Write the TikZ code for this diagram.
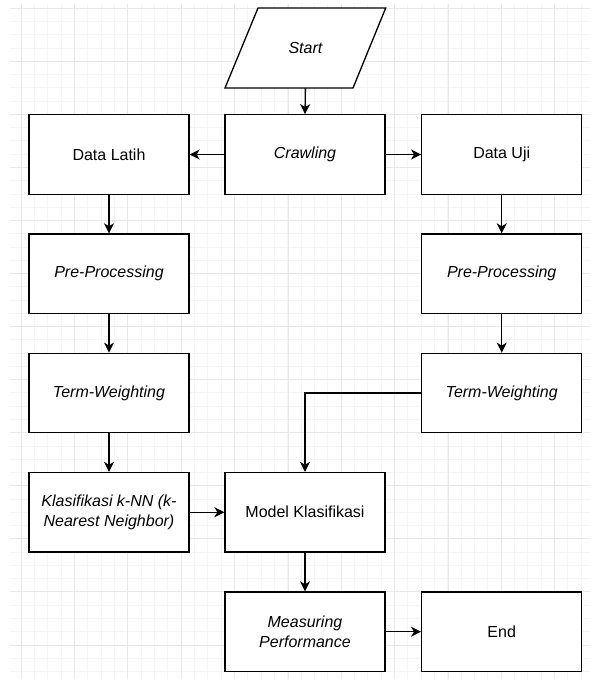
\documentclass[tikz,border=0pt]{standalone}
\usepackage{fontspec}
\setmainfont{Liberation Sans}
\usetikzlibrary{arrows.meta}
\definecolor{gridmajor}{RGB}{232,232,232}
\definecolor{gridminor}{RGB}{245,245,245}
\tikzset{
  box/.style={draw=black, line width=1.3pt, fill=white, minimum width=160pt, minimum height=79.5pt, inner sep=2pt, align=center, font=\fontsize{16}{19.5}\selectfont},
  itbox/.style={box, font=\fontsize{16}{19.5}\selectfont\itshape},
  conn/.style={draw=black, line width=1.3pt, -{Stealth[length=10pt,width=10pt,inset=3pt]}},
}
\begin{document}
\begin{tikzpicture}[x=1pt,y=-1pt]
\useasboundingbox (0,0) rectangle (590,679);
\fill[white] (0,0) rectangle (590,679);
\begin{scope}
\clip (10,4) rectangle (590,679);
\foreach \i in {0,...,42} {
  \pgfmathsetmacro\xx{21.33+13.333*\i}
  \draw[gridminor, line width=1pt] (\xx,4) -- (\xx,679);
}
\foreach \i in {0,...,50} {
  \pgfmathsetmacro\yy{8.3+13.265*\i}
  \draw[gridminor, line width=1pt] (10,\yy) -- (590,\yy);
}
\foreach \i in {0,...,10} {
  \pgfmathsetmacro\xx{21.33+53.333*\i}
  \draw[gridmajor, line width=1pt] (\xx,4) -- (\xx,679);
}
\foreach \i in {0,...,12} {
  \pgfmathsetmacro\yy{8.3+53.06*\i}
  \draw[gridmajor, line width=1pt] (10,\yy) -- (590,\yy);
}
\end{scope}

% Start parallelogram
\node[minimum width=128pt, minimum height=80pt, inner sep=0pt, font=\fontsize{16}{19.5}\selectfont\itshape] (start) at (305.4,48) {Start};
\draw[line width=1.3pt, fill=white] (258,8) -- (385.7,8) -- (353,88) -- (225,88) -- cycle;
\node[font=\fontsize{16}{19.5}\selectfont\itshape] at (start.center) {Start};

\node[box]   (latih)  at (109,154.5)   {Data Latih};
\node[itbox] (crawl)  at (305,154.5)   {Crawling};
\node[box]   (uji)    at (501.7,154.5) {Data Uji};
\node[itbox] (pre1)   at (109,273.7)   {Pre-Processing};
\node[itbox] (pre2)   at (501.7,273.7) {Pre-Processing};
\node[itbox] (tw1)    at (109,393)     {Term-Weighting};
\node[itbox] (tw2)    at (501.7,393)   {Term-Weighting};
\node[itbox] (knn)    at (109,512.2)   {Klasifikasi k-NN (k-\\Nearest Neighbor)};
\node[box]   (model)  at (305,512.2)   {Model Klasifikasi};
\node[itbox] (meas)   at (305,631.7)   {Measuring\\Performance};
\node[box]   (end)    at (501.7,631.7) {End};

\draw[conn] (start.south) -- (crawl.north);
\draw[conn] (crawl.west) -- (latih.east);
\draw[conn] (crawl.east) -- (uji.west);
\draw[conn] (latih.south) -- (pre1.north);
\draw[conn] (uji.south) -- (pre2.north);
\draw[conn] (pre1.south) -- (tw1.north);
\draw[conn] (pre2.south) -- (tw2.north);
\draw[conn] (tw1.south) -- (knn.north);
\draw[conn] (tw2.west) -| (model.north);
\draw[conn] (knn.east) -- (model.west);
\draw[conn] (model.south) -- (meas.north);
\draw[conn] (meas.east) -- (end.west);
\end{tikzpicture}
\end{document}
